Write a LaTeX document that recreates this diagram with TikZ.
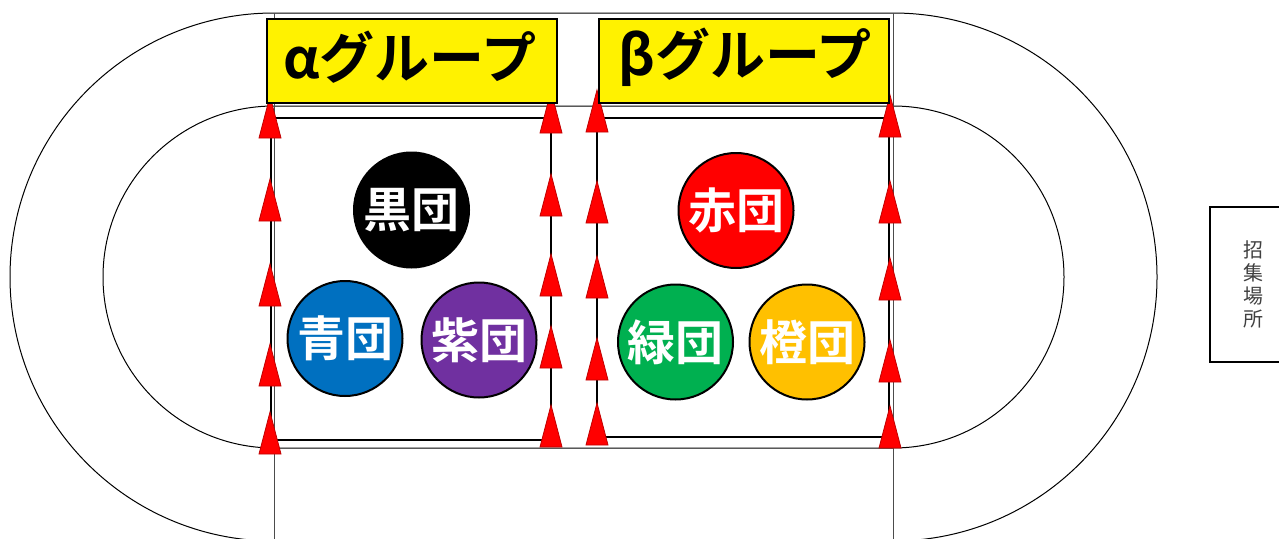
\documentclass[tikz,border=0pt]{standalone}
\usepackage{fontspec}
\newfontfamily\jpb{Noto Sans CJK JP Bold}
\newfontfamily\jpr{Noto Sans CJK JP}
\definecolor{tblue}{HTML}{0070C0}
\definecolor{tpurple}{HTML}{7030A0}
\definecolor{tgreen}{HTML}{00B050}
\definecolor{torange}{HTML}{FFC000}
\definecolor{tred}{HTML}{FF0000}
\definecolor{tridark}{HTML}{C00000}
\begin{document}
\begin{tikzpicture}[x=1pt,y=-1pt,
  track/.style={draw=black, line width=1pt},
  guide/.style={draw=black!70, line width=0.9pt},
  area/.style={draw=black, line width=2.5pt},
  lane/.style={draw=black, line width=2.5pt},
  arrowtri/.style={fill=tred, draw=tridark, line width=0.8pt, line join=miter},
  title/.style={draw=black, line width=1.6pt, fill=yellow, minimum width=290pt, minimum height=84pt, inner sep=0pt},
  titletext/.style={text=black, font=\jpb\fontsize{55}{55}\selectfont},
  team/.style={circle, draw=black, line width=2pt, minimum size=115pt, inner sep=0pt, text=white, font=\jpb\fontsize{48}{48}\selectfont},
  musterbox/.style={draw=black, line width=2.4pt, minimum width=86pt, minimum height=155pt, inner sep=0pt, align=center, text=black!75, font=\jpr\fontsize{20}{23}\selectfont}
  ]
\useasboundingbox (0,0) rectangle (1279,538);
\clip (0,0) rectangle (1279,538);
% track
\path[track] (274,13) -- (893,13) arc[start angle=-90,end angle=90,radius=264] -- (274,541) arc[start angle=90,end angle=270,radius=264] -- cycle;
\path[track] (274,106) -- (893,106) arc[start angle=-90,end angle=90,radius=171] -- (274,448) arc[start angle=90,end angle=270,radius=171] -- cycle;
\path[guide] (274,13) -- (274,541);
\path[guide] (893,13) -- (893,541);
% areas
\path[area] (271,118) rectangle (551,440);
\path[area] (597,118) rectangle (889,437);
\path[lane] (271,100) -- (271,448);
\path[lane] (551,100) -- (551,446);
\path[lane] (597,95) -- (597,444);
\path[lane] (889,100) -- (889,448);
% arrow triangles
\foreach \x/\t in {270/96,270/179,270/264,270/344,270/412,
                   551/91,551/174,551/254,551/326,551/405,
                   597/90,597/181,597/256,597/338,597/403,
                   890/95,890/181,890/258,890/340,890/406}{
  \filldraw[arrowtri] (\x-11,\t+42) -- (\x,\t) -- (\x+11,\t+42) -- cycle;
}
% titles
\node[title] (alpha) at (412,61) {};
\node[title] (beta) at (744,61) {};
\node[titletext] (alphatext) at (410,57) {αグループ};
\node[titletext] (betatext) at (745,57) {βグループ};
% teams
\node[team, fill=black] (kuro) at (411.5,210) {黒団};
\node[team, fill=tblue] (ao) at (345,338.5) {青団};
\node[team, fill=tpurple] (murasaki) at (479,340) {紫団};
\node[team, fill=tred] (aka) at (736,210.5) {赤団};
\node[team, fill=tgreen] (midori) at (675.5,342) {緑団};
\node[team, fill=torange] (daidai) at (807,342) {橙団};
% muster point
\node[musterbox] (muster) at (1253,284.5) {招\\集\\場\\所};
\end{tikzpicture}
\end{document}
